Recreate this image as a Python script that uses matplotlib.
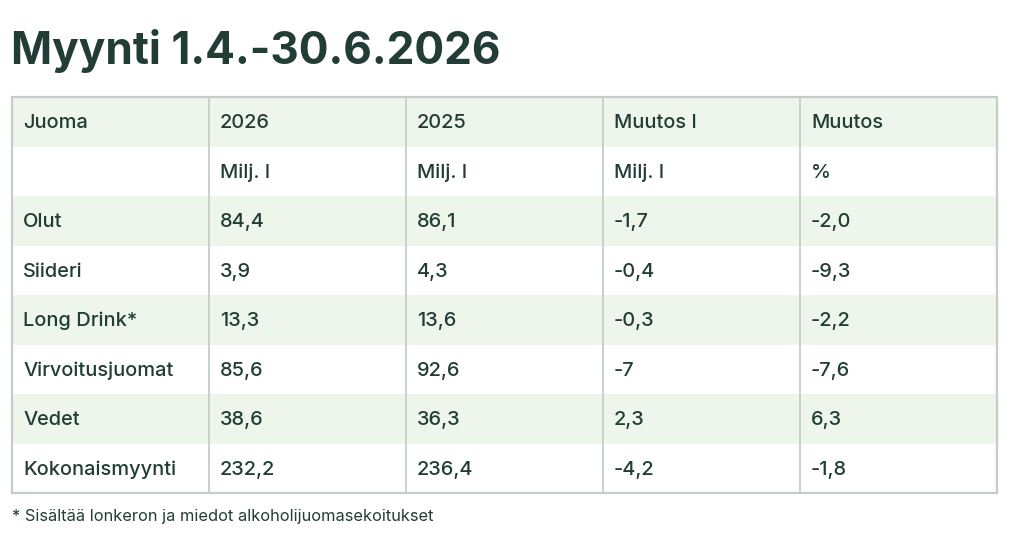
import matplotlib
matplotlib.use("Agg")
import matplotlib.pyplot as plt
from matplotlib.patches import Rectangle

title = "Myynti 1.4.-30.6.2026"
header = ["Juoma", "2026", "2025", "Muutos l", "Muutos"]
units = ["", "Milj. l", "Milj. l", "Milj. l", "%"]
drinks = ["Olut", "Siideri", "Long Drink*", "Virvoitusjuomat", "Vedet", "Kokonaismyynti"]
sales_2026 = ["84,4", "3,9", "13,3", "85,6", "38,6", "232,2"]
sales_2025 = ["86,1", "4,3", "13,6", "92,6", "36,3", "236,4"]
change_l = ["-1,7", "-0,4", "-0,3", "-7", "2,3", "-4,2"]
change_pct = ["-2,0", "-9,3", "-2,2", "-7,6", "6,3", "-1,8"]
footnote = "* Sisältää lonkeron ja miedot alkoholijuomasekoitukset"

rows = [header, units] + [list(r) for r in zip(drinks, sales_2026, sales_2025, change_l, change_pct)]

TEXT = "#213d36"
GREEN = "#eef5ea"
BORDER = "#c3cecb"

fig = plt.figure(figsize=(10.24, 5.48), dpi=100)
ax = fig.add_axes([0, 0, 1, 1])
ax.set_xlim(0, 1024)
ax.set_ylim(548, 0)
ax.axis("off")

ax.text(11, 51, title, fontsize=31.8, fontweight="bold",
        family="Inter", color=TEXT, va="center", ha="left")

left, right = 12, 997
top, bottom = 97, 493
col_x = [12, 209, 406, 603, 800, 997]
nrows = len(rows)
rh = (bottom - top) / nrows

for i, row in enumerate(rows):
    y0 = top + i * rh
    if i % 2 == 0:
        ax.add_patch(Rectangle((left, y0), right - left, rh, facecolor=GREEN,
                               edgecolor="none", zorder=1))
    for j, val in enumerate(row):
        ax.text(col_x[j] + 11, y0 + rh / 2 + 1.5, val, fontsize=14.4, family="Inter",
                fontweight="medium", color=TEXT, va="center", ha="left", zorder=3)

for x in col_x[1:-1]:
    ax.plot([x, x], [top, bottom], color=BORDER, lw=1.3, zorder=2)
ax.add_patch(Rectangle((left, top), right - left, bottom - top, facecolor="none",
                       edgecolor=BORDER, lw=1.6, zorder=2))

ax.text(12, 516, footnote, fontsize=11.8, family="Inter", color=TEXT,
        va="center", ha="left")

fig.savefig("out.png", dpi=100)
